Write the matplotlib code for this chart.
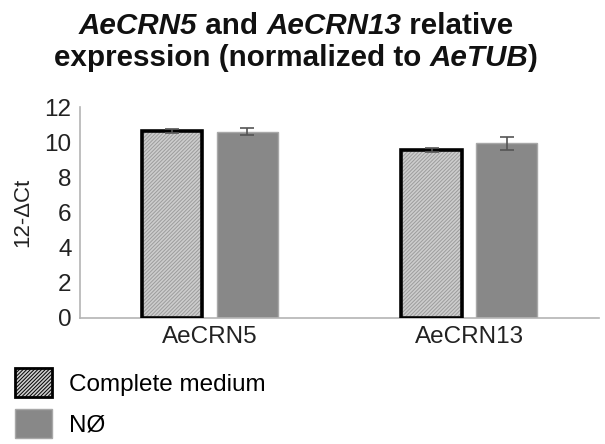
import matplotlib
matplotlib.use("Agg")
import matplotlib.pyplot as plt
import numpy as np
from matplotlib.patches import Patch

plt.rcParams['font.family'] = ['Liberation Sans', 'DejaVu Sans']
plt.rcParams['hatch.linewidth'] = 0.7

genes = ["AeCRN5", "AeCRN13"]
series_names = ["Complete medium", "NØ"]
complete_vals = [10.62, 9.55]
complete_err = [0.12, 0.12]
n0_vals = [10.60, 9.93]
n0_err = [0.20, 0.37]
yticks = [0, 2, 4, 6, 8, 10, 12]

title_lines = [
    [("AeCRN5", True), (" and ", False), ("AeCRN13", True), (" relative", False)],
    [("expression (normalized to ", False), ("AeTUB", True), (")", False)],
]

fig = plt.figure(figsize=(6.05, 4.44), dpi=100)
ax = fig.add_axes([0.132, 0.284, 0.858, 0.475])

x = np.arange(len(genes))
w = 0.235
off = 0.145

hatch_face = "#cdcdcd"
hatch_line = "#9c9c9c"
n0_color = "#888888"
err_color = "#555555"

# Complete medium: finely hatched fill with a thick black outline on top
ax.bar(x - off, complete_vals, w, color=hatch_face, edgecolor=hatch_line,
       hatch="/" * 9, linewidth=0, zorder=2)
ax.bar(x - off, complete_vals, w, facecolor="none", edgecolor="black",
       linewidth=2.6, zorder=3)
ax.errorbar(x - off, complete_vals, yerr=complete_err, fmt="none",
            ecolor=err_color, elinewidth=1.2, capsize=5, capthick=1.2, zorder=4)

# NØ: solid grey
ax.bar(x + off, n0_vals, w, color=n0_color, edgecolor="#a8a8a8",
       linewidth=1, zorder=2)
ax.errorbar(x + off, n0_vals, yerr=n0_err, fmt="none",
            ecolor=err_color, elinewidth=1.2, capsize=5, capthick=1.2, zorder=4)

ax.set_xlim(-0.5, 1.5)
ax.set_ylim(0, 12)
ax.set_yticks(yticks)
ax.set_yticklabels([str(t) for t in yticks], fontsize=17.5, color="#222222")
ax.set_xticks(x)
ax.set_xticklabels(genes, fontsize=17.5, color="#222222")
ax.tick_params(axis="both", length=0, pad=6)
ax.set_ylabel("12-ΔCt", fontsize=16, color="#222222", labelpad=8)

for s in ["top", "right"]:
    ax.spines[s].set_visible(False)
for s in ["left", "bottom"]:
    ax.spines[s].set_color("#b4b4b4")
    ax.spines[s].set_linewidth(1.2)

# Title: mixed bold / bold-italic runs, laid out piece by piece and centred
renderer = fig.canvas.get_renderer()
title_size = 21.3
baselines = [444 - 34, 444 - 66]  # pixel baselines from the bottom
W = 605.0
for segs, base in zip(title_lines, baselines):
    pieces = []
    total = 0.0
    for txt, ital in segs:
        t = fig.text(0, base / 444.0, txt, fontsize=title_size, fontweight="bold",
                     fontstyle="italic" if ital else "normal",
                     va="baseline", ha="left", color="#111111")
        bb = t.get_window_extent(renderer)
        pieces.append((t, bb.width))
        total += bb.width
    xpos = (592.0 - total) / 2.0
    for t, wd in pieces:
        t.set_x(xpos / W)
        xpos += wd

h1 = Patch(facecolor=hatch_face, edgecolor="black", hatch="/" * 9, linewidth=2)
h2 = Patch(facecolor=n0_color, edgecolor="#a8a8a8", linewidth=1)
fig.legend([h1, h2], series_names, loc="upper left",
           bbox_to_anchor=(0.025, 0.171), frameon=False, fontsize=17.5,
           handlelength=1.5, handleheight=1.45, labelspacing=0.5,
           handletextpad=0.7, borderaxespad=0.0, borderpad=0.0)

fig.savefig("out.png", dpi=100)
